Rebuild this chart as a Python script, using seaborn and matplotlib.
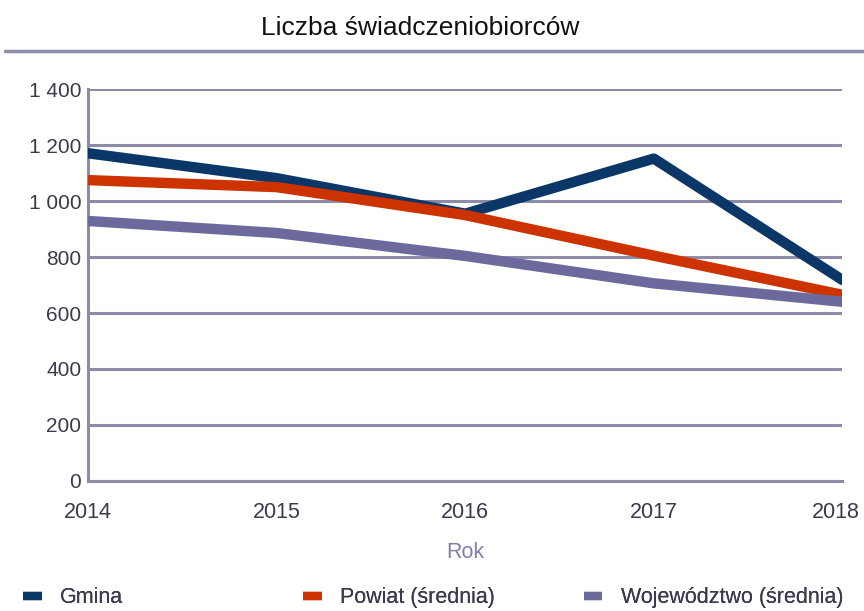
import matplotlib.pyplot as plt
import matplotlib.lines as mlines
import matplotlib.transforms as mtransforms
import seaborn as sns
import pandas as pd

lata = [2014, 2015, 2016, 2017, 2018]
gmina = [1171, 1082, 955, 1152, 718]
powiat = [1075, 1050, 950, 805, 665]
wojewodztwo = [929, 886, 804, 706, 640]
serie = ['Gmina', 'Powiat (średnia)', 'Województwo (średnia)']
kolory = ['#0a3768', '#cc3300', '#6c6a9c']

sns.set_style('white')
plt.rcParams['font.family'] = ['Liberation Sans', 'DejaVu Sans']

df = pd.DataFrame({
    'Rok': lata * 3,
    'wartosc': gmina + powiat + wojewodztwo,
    'seria': [serie[0]] * 5 + [serie[1]] * 5 + [serie[2]] * 5,
})

siatka = '#8c8ca8'
tekst = '#3a3a4e'

fig = plt.figure(figsize=(8.64, 6.11), dpi=100)
ax = fig.add_axes([0.102, 0.213, 0.873, 0.641])
ax.set_facecolor('#fffffd')
sns.lineplot(data=df, x='Rok', y='wartosc', hue='seria', palette=kolory,
             linewidth=7.5, legend=False, ax=ax, zorder=3)

ax.set_xlim(2014, 2018)
ax.set_ylim(0, 1400)
ax.set_yticks(range(0, 1401, 200))
ax.set_yticklabels([f'{v:,}'.replace(',', ' ') for v in range(0, 1401, 200)])
ax.set_xticks(lata)
ax.yaxis.grid(True, color=siatka, linewidth=2.2)
ax.tick_params(axis='y', length=3, width=2, color=siatka, labelsize=15,
               labelcolor=tekst, pad=2)
ax.tick_params(axis='x', length=0, labelsize=15.5, labelcolor=tekst, pad=15)
for s in ['top', 'right']:
    ax.spines[s].set_visible(False)
for s in ['left', 'bottom']:
    ax.spines[s].set_color(siatka)
    ax.spines[s].set_linewidth(2.2)
ax.set_ylabel('')
ax.set_xlabel('Rok', fontsize=15.5, color='#8080aa', labelpad=14)

# ostatnia etykieta lekko w lewo, zeby sie zmiescila
ostatnia = ax.get_xticklabels()[-1]
ostatnia.set_transform(ostatnia.get_transform() +
                       mtransforms.ScaledTranslation(-0.07, 0, fig.dpi_scale_trans))

fig.text(0.486, 0.954, 'Liczba świadczeniobiorców', ha='center', va='center',
         fontsize=19, color='#111111')
fig.add_artist(mlines.Line2D([0.006, 1.0], [0.917, 0.917], color='#8e8eaa',
                             linewidth=2.5, transform=fig.transFigure))

# trzy osobne wpisy legendy, rozstawione jak w oryginale
pozycje_x = [0.027, 0.351, 0.676]
for nazwa, kolor, px in zip(serie, kolory, pozycje_x):
    uchwyt = mlines.Line2D([], [], color=kolor, linewidth=6,
                           solid_capstyle='butt')
    leg = fig.legend([uchwyt], [nazwa], loc='center left',
                     bbox_to_anchor=(px, 0.022), frameon=False, fontsize=15.5,
                     labelcolor=tekst, handlelength=0.85, handletextpad=0.85,
                     borderpad=0, borderaxespad=0)
    fig.add_artist(leg)

plt.savefig('out.png', dpi=100)
